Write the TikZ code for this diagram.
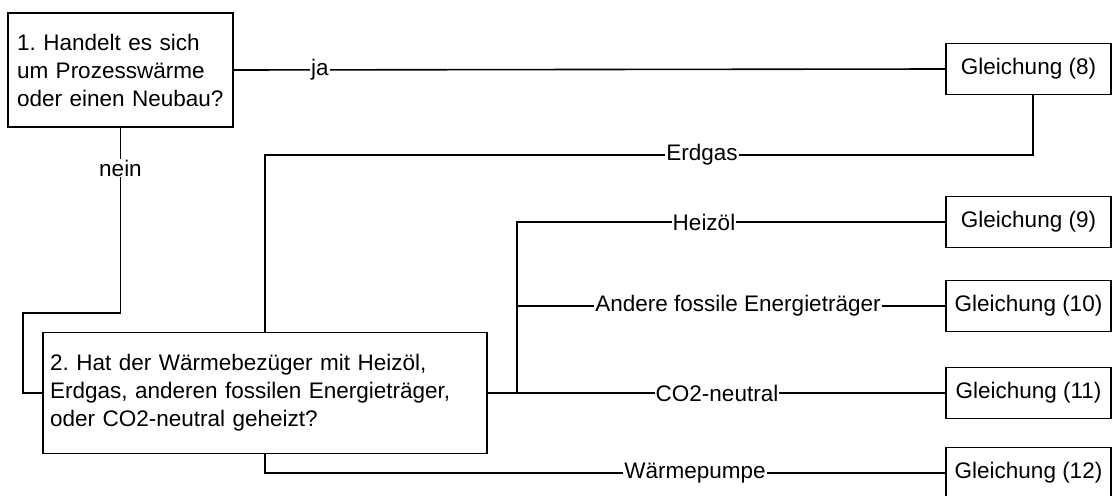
\documentclass[tikz,border=0pt]{standalone}
\usepackage{fontspec}
\setmainfont{Liberation Sans}
\frenchspacing
\begin{document}
\begin{tikzpicture}[x=1pt,y=-1pt,
  every node/.style={font=\fontsize{22.5}{28}\selectfont},
  box/.style={draw,line width=1.6pt,inner sep=0pt},
  qbox/.style={box,align=left},
  gbox/.style={box,minimum width=165pt,minimum height=51pt},
  lbl/.style={fill=white,inner sep=1pt},
  conn/.style={line width=1.6pt}]
\useasboundingbox (0,0) rectangle (1113,495);
% question boxes
\node[qbox,minimum width=225pt,minimum height=114pt,text width=207pt] (b1) at (120.5,70)
  {1. Handelt es sich\\um Prozesswärme\\oder einen Neubau?};
\node[qbox,minimum width=444pt,minimum height=121pt,text width=430pt] (b2) at (265,393)
  {2. Hat der Wärmebezüger mit Heizöl,\\Erdgas, anderen fossilen Energieträger,\\oder CO2-neutral geheizt?};
% result boxes
\node[gbox] (b8)  at (1028.5,69)   {Gleichung (8)};
\node[gbox] (b9)  at (1028.5,222)  {Gleichung (9)};
\node[gbox] (b10) at (1028.5,306)  {Gleichung (10)};
\node[gbox] (b11) at (1028.5,393)  {Gleichung (11)};
\node[gbox] (b12) at (1028.5,473)  {Gleichung (12)};
% helper coordinates
\coordinate (k1) at (120.5,313);
\coordinate (k2) at (23,313);
\coordinate (e2) at (1033,155);
\coordinate (j)  at (517,393);
% connectors
\draw[conn] (b1.east) -- (b8.west);
\draw[conn] (b1.south) -- (k1) -- (k2) |- (b2.west);
\draw[conn] (b2.north) |- (e2) -- (e2 |- b8.south);
\draw[conn] (b2.east) -- (b11.west);
\draw[conn] (j) |- (b9.west);
\draw[conn] (j |- b10.west) -- (b10.west);
\draw[conn] (b2.south) |- (b12.west);
% labels
\node[lbl] (lja)   at (320,70)   {ja};
\node[lbl] (lnein) at (120.5,168) {nein};
\node[lbl] (lerd)  at (702,155)  {Erdgas};
\node[lbl] (lhei)  at (704,222)  {Heizöl};
\node[lbl] (land)  at (738,306)  {Andere fossile Energieträger};
\node[lbl] (lco)   at (717,393)  {CO2-neutral};
\node[lbl] (lwp)   at (695,473)  {Wärmepumpe};
\end{tikzpicture}
\end{document}
